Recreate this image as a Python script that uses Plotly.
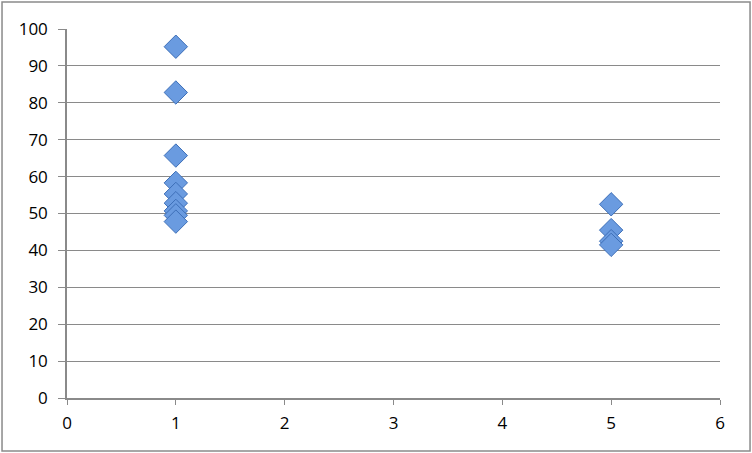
import plotly.graph_objects as go

# values
group_x = [1, 1, 1, 1, 1, 1, 1, 1, 1, 5, 5, 5, 5]
scores = [95.2, 82.8, 65.7, 58.3, 55.3, 52.8, 50.7, 49.5, 47.8,
          52.5, 45.5, 42.5, 41.5]
x_ticks = [0, 1, 2, 3, 4, 5, 6]
y_ticks = [0, 10, 20, 30, 40, 50, 60, 70, 80, 90, 100]

grey = "#8a8a8a"

fig = go.Figure()
fig.add_trace(
    go.Scatter(
        x=group_x,
        y=scores,
        mode="markers",
        marker=dict(
            symbol="diamond",
            size=18,
            color="#6a9be0",
            line=dict(color="#3d6fb8", width=1),
        ),
        showlegend=False,
    )
)

fig.update_layout(
    width=752,
    height=453,
    margin=dict(l=67, r=32, t=29, b=55),
    paper_bgcolor="white",
    plot_bgcolor="white",
    font=dict(family="Open Sans", size=17, color="black"),
    xaxis=dict(
        range=[0, 6],
        tickvals=x_ticks,
        showgrid=False,
        zeroline=False,
        showline=True,
        linecolor=grey,
        linewidth=1.5,
        ticks="outside",
        ticklen=5,
        tickcolor=grey,
        ticklabelstandoff=4,
        fixedrange=True,
    ),
    yaxis=dict(
        range=[0, 100],
        tickvals=y_ticks,
        showgrid=True,
        gridcolor=grey,
        gridwidth=1,
        zeroline=False,
        showline=True,
        linecolor=grey,
        linewidth=1.5,
        ticks="outside",
        ticklen=7,
        tickcolor=grey,
        ticklabelstandoff=7,
        fixedrange=True,
    ),
)

# outer chart border
fig.add_shape(
    type="rect",
    xref="paper",
    yref="paper",
    x0=-0.0995,
    x1=1.046,
    y0=-0.1436,
    y1=1.0732,
    line=dict(color=grey, width=1.5),
)

# drop the page's default body margin so the chart sits at the window corner
fig.write_html(
    "out.html",
    config={"displayModeBar": False},
    post_script="document.body.style.margin='0';",
)
